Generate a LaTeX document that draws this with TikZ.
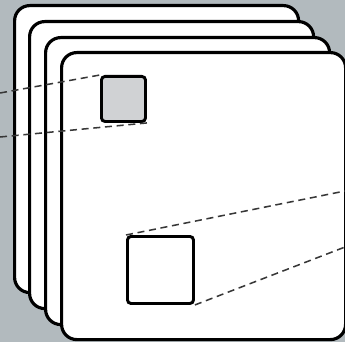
\documentclass[tikz,border=0pt]{standalone}
\usepackage{xcolor}
\usepackage{tikz}
\usetikzlibrary{positioning, calc}
\definecolor{backgray}{RGB}{178, 186, 190}
\definecolor{patchgray}{RGB}{208, 210, 212}
\definecolor{linkgray}{RGB}{55, 55, 55}

\begin{document}
\begin{tikzpicture}[x=0.03cm, y=-0.03cm,
    card/.style={draw, line width=2.7pt, fill=white, rounded corners=13pt, inner sep=0pt,
                 minimum width=8.52cm, minimum height=8.61cm, anchor=north west},
    patch/.style={draw, line width=2.5pt, rounded corners=3pt, inner sep=0pt, anchor=north west},
    link/.style={draw=linkgray, line width=1.3pt, dash pattern=on 6pt off 4pt}]
    \fill[backgray] (0,0) rectangle (345,342);
    \useasboundingbox (0,0) rectangle (345,342);
    % stack of maps
    \node[card] (map1) at (13,4) {};
    \node[card] (map2) at (28,20) {};
    \node[card] (map3) at (44,36) {};
    \node[card] (map4) at (60,51) {};
    % receptive fields
    \coordinate (inTop) at (0,93);
    \coordinate (inBot) at (0,137);
    \coordinate (outTop) at (345,191);
    \coordinate (outBot) at (345,247);
    \node[patch, fill=patchgray, minimum width=1.32cm, minimum height=1.35cm] (field) at (100,75) {};
    \node[patch, fill=white, minimum width=1.98cm, minimum height=2.01cm] (unit) at (126,235) {};
    \draw[link] (inTop) -- (field.north west);
    \draw[link] (inBot) -- (field.south east);
    \draw[link] (unit.north west) -- (outTop);
    \draw[link] (unit.south east) -- (outBot);
\end{tikzpicture}
\end{document}
